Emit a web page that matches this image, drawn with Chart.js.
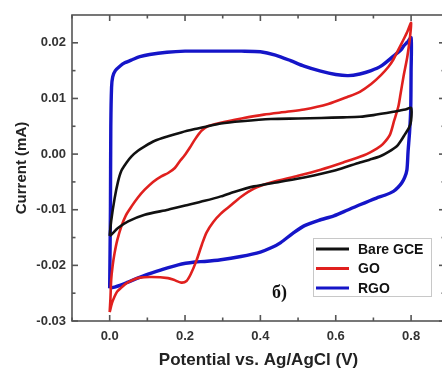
<!DOCTYPE html>
<html lang="en">
<head>
    <meta charset="UTF-8">
    <title>CV curves: Bare GCE, GO, RGO</title>
    <style>
        html, body {
            margin: 0;
            padding: 0;
            background: #fff;
            overflow: hidden;
        }
        .chart-box {
            width: 446px;
            height: 372px;
        }
    </style>
</head>
<body>
    <div class="chart-box">
        <canvas id="cvChart" width="446" height="372"></canvas>
    </div>

    <script src="https://cdn.jsdelivr.net/npm/chart.js"></script>
    <script>
        // series names and colours
        const seriesNames = ['Bare GCE', 'GO', 'RGO'];
        const seriesColors = ['#111111', '#e0201e', '#1515c8'];

        // Bare GCE loop (potential V, current mA), forward then back
        const bareX = [0.000, 0.004, 0.013, 0.022, 0.031, 0.045, 0.058, 0.075, 0.093, 0.12, 0.155, 0.19, 0.226, 0.26, 0.295, 0.35, 0.428, 0.50, 0.561, 0.62, 0.664, 0.70, 0.753, 0.785, 0.800,
                       0.800, 0.795, 0.784, 0.773, 0.762, 0.74, 0.718, 0.69, 0.664, 0.60, 0.516, 0.45, 0.383, 0.33, 0.295, 0.252, 0.204, 0.155, 0.093, 0.049, 0.022, 0.004, 0.000];
        const bareY = [-0.0147, -0.0120, -0.0080, -0.0050, -0.0030, -0.0015, -0.0004, 0.0006, 0.0014, 0.0024, 0.0032, 0.0039, 0.0045, 0.0050, 0.0055, 0.0059, 0.0063, 0.0064, 0.0065, 0.0066, 0.0067, 0.0070, 0.0076, 0.0080, 0.0083,
                       0.0060, 0.0048, 0.0036, 0.0024, 0.0014, 0.0004, -0.0004, -0.0010, -0.0015, -0.0029, -0.0042, -0.0050, -0.0058, -0.0068, -0.0076, -0.0084, -0.0092, -0.0100, -0.0109, -0.0121, -0.0133, -0.0145, -0.0147];

        // GO loop
        const goX = [0.000, 0.002, 0.004, 0.008, 0.013, 0.020, 0.031, 0.043, 0.058, 0.075, 0.093, 0.115, 0.137, 0.155, 0.173, 0.187, 0.199, 0.213, 0.226, 0.244, 0.26, 0.292, 0.35, 0.409, 0.47, 0.516, 0.58, 0.632, 0.664, 0.694, 0.72, 0.74, 0.753, 0.765, 0.78, 0.79, 0.800,
                     0.797, 0.790, 0.780, 0.772, 0.766, 0.755, 0.744, 0.725, 0.709, 0.675, 0.62, 0.56, 0.50, 0.428, 0.383, 0.348, 0.32, 0.295, 0.275, 0.257, 0.245, 0.23, 0.215, 0.204, 0.19, 0.17, 0.155, 0.111, 0.08, 0.066, 0.045, 0.031, 0.020, 0.013, 0.006, 0.000];
        const goY = [-0.0284, -0.0260, -0.0226, -0.0200, -0.0178, -0.0155, -0.0130, -0.0110, -0.0094, -0.0078, -0.0064, -0.0050, -0.0040, -0.0034, -0.0025, -0.0012, -0.0002, 0.0012, 0.0026, 0.0042, 0.0050, 0.0056, 0.0064, 0.0071, 0.0076, 0.0080, 0.0090, 0.0103, 0.0112, 0.0126, 0.0142, 0.0157, 0.0170, 0.0186, 0.0206, 0.0220, 0.0236,
                     0.0210, 0.0175, 0.0140, 0.0108, 0.0085, 0.0060, 0.0035, 0.0018, 0.0010, -0.0002, -0.0015, -0.0028, -0.0039, -0.0051, -0.0062, -0.0077, -0.0093, -0.0107, -0.0122, -0.0141, -0.0162, -0.0192, -0.0216, -0.0228, -0.0231, -0.0226, -0.0223, -0.0221, -0.0222, -0.0225, -0.0232, -0.0240, -0.0247, -0.0256, -0.0268, -0.0284];

        // RGO loop
        const rgoX = [0.000, 0.002, 0.003, 0.005, 0.008, 0.015, 0.027, 0.040, 0.061, 0.080, 0.106, 0.152, 0.20, 0.25, 0.295, 0.35, 0.40, 0.44, 0.48, 0.516, 0.56, 0.60, 0.633, 0.664, 0.694, 0.72, 0.753, 0.774, 0.78, 0.79, 0.800,
                      0.800, 0.799, 0.796, 0.792, 0.789, 0.783, 0.775, 0.765, 0.753, 0.73, 0.708, 0.664, 0.63, 0.595, 0.555, 0.516, 0.485, 0.454, 0.43, 0.40, 0.348, 0.295, 0.252, 0.226, 0.182, 0.137, 0.093, 0.049, 0.027, 0.013, 0.000];
        const rgoY = [-0.0241, -0.0100, 0.0050, 0.0120, 0.0139, 0.0150, 0.0158, 0.0164, 0.0170, 0.0175, 0.0179, 0.0183, 0.0185, 0.0185, 0.0185, 0.0185, 0.0184, 0.0178, 0.0168, 0.0158, 0.0149, 0.0143, 0.0141, 0.0144, 0.0150, 0.0158, 0.0176, 0.0188, 0.0194, 0.0201, 0.0209,
                      0.0150, 0.0080, 0.0040, 0.0005, -0.0028, -0.0042, -0.0052, -0.0060, -0.0067, -0.0074, -0.0079, -0.0091, -0.0101, -0.0111, -0.0119, -0.0129, -0.0143, -0.0159, -0.0168, -0.0176, -0.0184, -0.0190, -0.0193, -0.0194, -0.0199, -0.0208, -0.0218, -0.0230, -0.0236, -0.0239, -0.0241];

        // axis ticks
        const xTicks = [0.0, 0.2, 0.4, 0.6, 0.8];
        const xMinorTicks = [-0.1, 0.1, 0.3, 0.5, 0.7];
        const yTicks = [-0.03, -0.02, -0.01, 0.00, 0.01, 0.02];
        const yMinorTicks = [-0.025, -0.015, -0.005, 0.005, 0.015];

        function toPoints(xs, ys) {
            return xs.map((v, i) => ({ x: v, y: ys[i] }));
        }

        // frame with inward ticks on all four sides, plus legend and panel mark
        const framePlugin = {
            id: 'frame',
            afterDatasetsDraw(chart) {
                const { ctx, chartArea: a, scales: { x, y } } = chart;
                ctx.save();
                ctx.strokeStyle = '#555';
                ctx.lineWidth = 1.6;
                ctx.strokeRect(a.left, a.top, a.right - a.left, a.bottom - a.top);

                function tick(x1, y1, x2, y2) {
                    ctx.beginPath();
                    ctx.moveTo(x1, y1);
                    ctx.lineTo(x2, y2);
                    ctx.stroke();
                }
                xTicks.forEach(v => {
                    const px = x.getPixelForValue(v);
                    tick(px, a.bottom, px, a.bottom - 6);
                    tick(px, a.top, px, a.top + 6);
                });
                xMinorTicks.forEach(v => {
                    const px = x.getPixelForValue(v);
                    tick(px, a.bottom, px, a.bottom - 3.5);
                    tick(px, a.top, px, a.top + 3.5);
                });
                yTicks.forEach(v => {
                    const py = y.getPixelForValue(v);
                    tick(a.left, py, a.left + 6, py);
                    tick(a.right, py, a.right - 6, py);
                });
                yMinorTicks.forEach(v => {
                    const py = y.getPixelForValue(v);
                    tick(a.left, py, a.left + 3.5, py);
                    tick(a.right, py, a.right - 3.5, py);
                });

                // legend
                const lx = 313, ly = 238, lw = 118, lh = 58;
                ctx.fillStyle = '#fff';
                ctx.fillRect(lx, ly, lw, lh);
                ctx.strokeStyle = '#c8c8c8';
                ctx.lineWidth = 1;
                ctx.strokeRect(lx + 0.5, ly + 0.5, lw, lh);
                ctx.font = 'bold 14px "Liberation Sans", Arial, sans-serif';
                ctx.textBaseline = 'middle';
                chart.data.datasets.forEach((ds, i) => {
                    const ry = ly + 11 + i * 19.5;
                    ctx.strokeStyle = ds.borderColor;
                    ctx.lineWidth = 3;
                    tick(lx + 3, ry, lx + 36, ry);
                    ctx.fillStyle = '#111';
                    ctx.fillText(ds.label, lx + 45, ry + 1);
                });

                // panel mark
                ctx.font = 'bold 18px "Liberation Serif", "Times New Roman", serif';
                ctx.textBaseline = 'alphabetic';
                ctx.fillStyle = '#111';
                ctx.fillText('б)', 272, 298);
                ctx.restore();
            }
        };

        const datasets = [
            { xs: bareX, ys: bareY, width: 2.6 },
            { xs: goX, ys: goY, width: 2.6 },
            { xs: rgoX, ys: rgoY, width: 3.4 }
        ].map((s, i) => ({
            label: seriesNames[i],
            data: toPoints(s.xs, s.ys),
            borderColor: seriesColors[i],
            backgroundColor: seriesColors[i],
            borderWidth: s.width,
            showLine: true,
            pointRadius: 0,
            tension: 0.25,
            fill: false
        }));

        new Chart(document.getElementById('cvChart').getContext('2d'), {
            type: 'scatter',
            data: { datasets: datasets },
            options: {
                responsive: false,
                animation: false,
                layout: { padding: { top: 15, right: 1, left: 0, bottom: 0 } },
                plugins: {
                    legend: { display: false },
                    tooltip: { enabled: false }
                },
                scales: {
                    x: {
                        type: 'linear',
                        min: -0.1,
                        max: 0.89,
                        grid: { display: false, drawTicks: false },
                        border: { display: false },
                        afterBuildTicks: scale => { scale.ticks = xTicks.map(v => ({ value: v })); },
                        afterFit: scale => { scale.height = 51; },
                        ticks: {
                            padding: 8,
                            maxRotation: 0,
                            color: '#333',
                            font: { family: '"Liberation Sans", Arial, sans-serif', size: 13, weight: 'bold' },
                            callback: v => Number(v).toFixed(1)
                        },
                        title: {
                            display: true,
                            text: 'Potential vs. Ag/AgCl (V)',
                            color: '#222',
                            padding: { top: 0, bottom: 1 },
                            font: { family: '"Liberation Sans", Arial, sans-serif', size: 17, weight: 'bold' }
                        }
                    },
                    y: {
                        type: 'linear',
                        min: -0.03,
                        max: 0.025,
                        grid: { display: false, drawTicks: false },
                        border: { display: false },
                        afterBuildTicks: scale => { scale.ticks = yTicks.map(v => ({ value: v })); },
                        afterFit: scale => { scale.width = 72; },
                        ticks: {
                            padding: 6,
                            color: '#333',
                            font: { family: '"Liberation Sans", Arial, sans-serif', size: 13, weight: 'bold' },
                            callback: v => Number(v).toFixed(2)
                        },
                        title: {
                            display: true,
                            text: 'Current (mA)',
                            color: '#222',
                            padding: { top: 13, bottom: 0 },
                            font: { family: '"Liberation Sans", Arial, sans-serif', size: 15, weight: 'bold' }
                        }
                    }
                }
            },
            plugins: [framePlugin]
        });
    </script>
</body>
</html>
